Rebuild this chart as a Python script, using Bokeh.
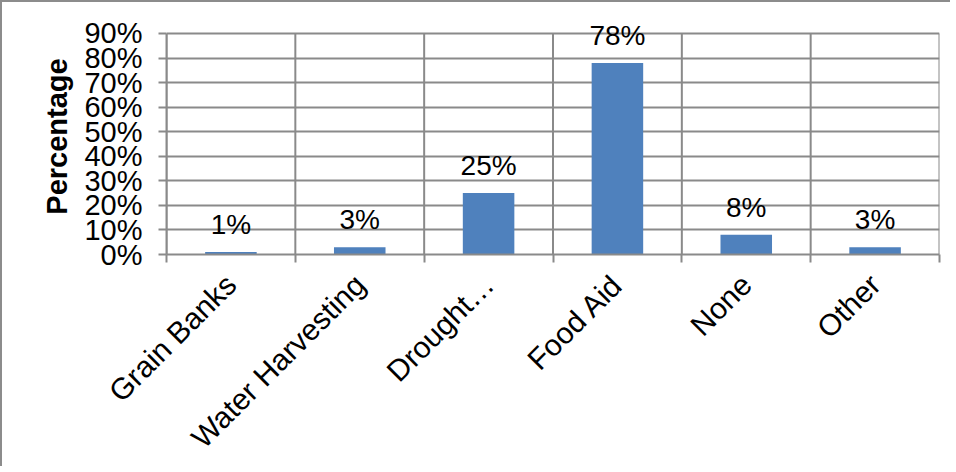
import math
from bokeh.plotting import figure
from bokeh.models import ColumnDataSource, FixedTicker, LabelSet
from bokeh.core.properties import value
from bokeh.embed import file_html
from bokeh.resources import INLINE

categories = ["Grain Banks", "Water Harvesting", "Drought…", "Food Aid", "None", "Other"]
values = [0.01, 0.03, 0.25, 0.78, 0.08, 0.03]
value_labels = ["1%", "3%", "25%", "78%", "8%", "3%"]
y_ticks = [0, 0.1, 0.2, 0.3, 0.4, 0.5, 0.6, 0.7, 0.8, 0.9]
y_tick_labels = ["0%", "10%", "20%", "30%", "40%", "50%", "60%", "70%", "80%", "90%"]
y_title = "Percentage"

FONT = "Liberation Sans"
GRID = "#8a8a8a"

n = len(categories)
xs = [i + 0.5 for i in range(n)]
bounds_x = list(range(n + 1))
y_max = y_ticks[-1]
src = ColumnDataSource(dict(x=xs, top=values, lab=value_labels))
bsrc = ColumnDataSource(dict(x=bounds_x, y0=[0] * len(bounds_x), y1=[y_max] * len(bounds_x)))

# headroom above the top gridline so the value labels are not clipped
p = figure(width=950, height=466, x_range=(0, n), y_range=(0, y_max + 0.061),
           output_backend="svg", toolbar_location=None,
           min_border_left=164, min_border_right=13, min_border_top=16, min_border_bottom=213)
p.styles = {"border-left": "2px solid #8c8c8c", "border-top": "2px solid #8c8c8c"}
p.background_fill_color = "white"
p.border_fill_color = "white"
p.outline_line_color = None

# vertical boundary lines between categories
p.segment(x0="x", y0="y0", x1="x", y1="y1", source=bsrc, line_color=GRID, line_width=2)

p.vbar(x="x", top="top", width=0.4, source=src, fill_color="#4F81BD", line_color=None)

labels = LabelSet(x="x", y="top", text="lab", source=src, y_offset=18,
                  text_align="center", text_baseline="alphabetic",
                  text_font=value(FONT), text_font_size="28px", text_color="black")
p.add_layout(labels)

xt = FixedTicker(ticks=xs, minor_ticks=bounds_x)
p.xaxis.ticker = xt
p.xaxis.major_label_overrides = {xv: c for xv, c in zip(xs, categories)}
p.xaxis.major_label_orientation = math.pi / 4
p.xaxis.major_tick_in = 0
p.xaxis.major_tick_out = 0
p.xaxis.minor_tick_in = 0
p.xaxis.minor_tick_out = 8
p.xaxis.minor_tick_line_color = GRID
p.xaxis.minor_tick_line_width = 2
p.xaxis.axis_line_color = GRID
p.xaxis.axis_line_width = 2
p.xaxis.major_label_text_font = FONT
p.xaxis.major_label_text_font_size = "30px"
p.xaxis.major_label_text_color = "black"
p.xaxis.major_label_standoff = 17
p.xgrid.grid_line_color = None

yt = FixedTicker(ticks=y_ticks, minor_ticks=[])
p.yaxis.ticker = yt
p.yaxis.bounds = (0, y_max)
p.yaxis.major_label_overrides = {yv: s for yv, s in zip(y_ticks, y_tick_labels)}
p.yaxis.major_tick_in = 0
p.yaxis.major_tick_out = 8
p.yaxis.major_tick_line_color = GRID
p.yaxis.major_tick_line_width = 2
p.yaxis.minor_tick_line_color = None
p.yaxis.axis_line_color = GRID
p.yaxis.axis_line_width = 2
p.yaxis.major_label_text_font = FONT
p.yaxis.major_label_text_font_size = "29px"
p.yaxis.major_label_text_color = "black"
p.yaxis.major_label_standoff = 16
p.yaxis.axis_label = y_title
p.yaxis.axis_label_text_font = FONT
p.yaxis.axis_label_text_font_size = "29px"
p.yaxis.axis_label_text_font_style = "bold"
p.yaxis.axis_label_text_color = "black"
p.yaxis.axis_label_standoff = 8

p.ygrid.ticker = yt
p.ygrid.grid_line_color = GRID
p.ygrid.grid_line_width = 2

open("out.html", "w").write(file_html(p, INLINE))
